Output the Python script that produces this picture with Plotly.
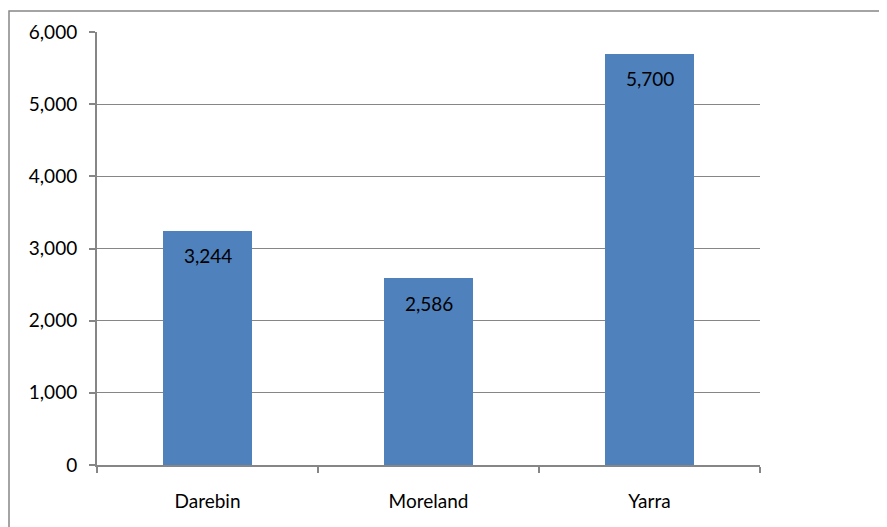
import plotly.graph_objects as go

categories = ["Darebin", "Moreland", "Yarra"]
values = [3244, 2586, 5700]
y_ticks = [0, 1000, 2000, 3000, 4000, 5000, 6000]
y_tick_labels = ["0", "1,000", "2,000", "3,000", "4,000", "5,000", "6,000"]
value_labels = ["3,244", "2,586", "5,700"]

FONT = "Lato"
GRID = "#868686"
FS = 19

W, H = 879, 519
L, T, PW, PH = 89, 22, 663, 435

fig = go.Figure()
fig.add_trace(go.Bar(
    x=categories, y=values, marker=dict(color="#4F81BD", line=dict(width=0)),
    width=0.407, hoverinfo="skip"
))

for c, v, t in zip(categories, values, value_labels):
    fig.add_annotation(x=c, y=v, text=t, showarrow=False, yanchor="middle",
                       yshift=-25, font=dict(family=FONT, size=FS, color="#000000"))

fig.update_layout(
    width=W, height=H,
    margin=dict(l=L, r=W - L - PW, t=T, b=H - T - PH),
    paper_bgcolor="white", plot_bgcolor="white",
    showlegend=False,
    font=dict(family=FONT, size=FS, color="#000000"),
    bargap=0,
)
fig.update_yaxes(
    range=[0, 6000], tickvals=y_ticks, ticktext=y_tick_labels,
    showgrid=True, gridcolor=GRID, gridwidth=1,
    showline=True, linecolor=GRID, linewidth=2,
    ticks="outside", ticklen=6, tickcolor=GRID, tickwidth=2,
    zeroline=False, ticklabelstandoff=8,
)
fig.update_xaxes(
    showline=True, linecolor=GRID, linewidth=2,
    ticks="outside", ticklen=6, tickcolor=GRID, tickwidth=2,
    tickson="boundaries", showgrid=False, ticklabelstandoff=18,
)
fig.add_shape(type="rect", xref="paper", yref="paper",
              x0=-(L - 1) / PW, x1=(W - 3 - L) / PW,
              y0=-(H + 20 - T - PH) / PH, y1=(T + PH - 1) / PH,
              line=dict(color="#868686", width=1.5), fillcolor="rgba(0,0,0,0)", layer="below")

fig.write_html("out.html")
